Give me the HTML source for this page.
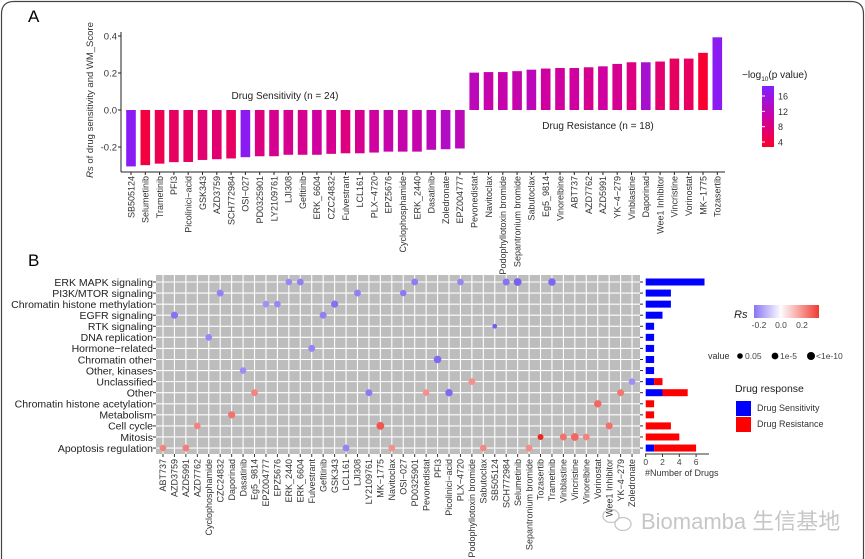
<!DOCTYPE html>
<html><head><meta charset="utf-8"><style>
html,body{margin:0;background:#fff;overflow:hidden;width:865px;height:559px;}
svg{display:block;overflow:hidden;font-family:"Liberation Sans","Noto Sans CJK SC",sans-serif;}
</style></head><body>
<svg id="fig" width="865" height="559" viewBox="0 0 865 559">
<path d="M1.5 559 L1.5 14 Q1.5 1.5 14 1.5 L851 1.5 Q863.5 1.5 863.5 14 L863.5 559" fill="none" stroke="#444" stroke-width="1.2"/>
<text x="28" y="22" font-size="17">A</text>
<text x="28" y="266" font-size="17">B</text>
<g id="A"></g><g id="B"></g>
<g opacity="0.55">
<ellipse cx="611" cy="516" rx="8" ry="6.5" fill="none" stroke="#999" stroke-width="1.3"/>
<ellipse cx="623" cy="524" rx="8" ry="6.5" fill="none" stroke="#999" stroke-width="1.3"/>
<text x="641" y="529" font-size="22" fill="#999">Biomamba 生信基地</text>
</g>
</svg>
<script>
const drugs=["SB505124","Selumetinib","Trametinib","PFI3","Picolinici−acid","GSK343","AZD3759","SCH772984","OSI−027","PD0325901","LY2109761","LJI308","Gefitinib","ERK_6604","CZC24832","Fulvestrant","LCL161","PLX−4720","EPZ5676","Cyclophosphamide","ERK_2440","Dasatinib","Zoledronate","EPZ004777","Pevonedistat","Navitoclax","Podophyllotoxin bromide","Sepantronium bromide","Sabutoclax","Eg5_9814","Vinorelbine","ABT737","AZD7762","AZD5991","YK−4−279","Vinblastine","Daporinad","Wee1 Inhibitor","Vincristine","Vorinostat","MK−1775","Tozasertib"];
const rsValues=[-0.305,-0.298,-0.29,-0.282,-0.281,-0.27,-0.266,-0.262,-0.255,-0.25,-0.25,-0.242,-0.242,-0.242,-0.237,-0.234,-0.234,-0.23,-0.225,-0.225,-0.225,-0.215,-0.212,-0.208,0.202,0.205,0.205,0.21,0.218,0.224,0.227,0.227,0.231,0.236,0.249,0.258,0.258,0.262,0.278,0.278,0.309,0.393];
const logP=[17,4,5,6,6,7,7,6,17,8,9,9,9,10,9,8,9,10,11,11,11,12,13,12,12,11,11,11,12,10,10,10,9,10,9,8,14,7,6,6,3,17];
const yTicks=[0.4,0.2,0.0,-0.2];
const pTicks=[16,12,8,4];

const catNames=["ERK MAPK signaling","PI3K/MTOR signaling","Chromatin histone methylation","EGFR signaling","RTK signaling","DNA replication","Hormone−related","Chromatin other","Other, kinases","Unclassified","Other","Chromatin histone acetylation","Metabolism","Cell cycle","Mitosis","Apoptosis regulation"];
const colDrugs=["ABT737","AZD3759","AZD5991","AZD7762","Cyclophosphamide","CZC24832","Daporinad","Dasatinib","Eg5_9814","EPZ004777","EPZ5676","ERK_2440","ERK_6604","Fulvestrant","Gefitinib","GSK343","LCL161","LJI308","LY2109761","MK−1775","Navitoclax","OSI−027","PD0325901","Pevonedistat","PFI3","Picolinici−acid","PLX−4720","Podophyllotoxin bromide","Sabutoclax","SB505124","SCH772984","Selumetinib","Sepantronium bromide","Tozasertib","Trametinib","Vinblastine","Vincristine","Vinorelbine","Vorinostat","Wee1 Inhibitor","YK−4−279","Zoledronate"];
const dotCategory=[15,3,15,13,5,1,12,8,10,2,2,0,0,6,3,2,15,1,10,13,15,1,0,10,7,10,0,9,15,4,0,0,15,14,0,14,14,14,11,13,10,9];
const dotSize=[3.3,3.6,3.4,3.3,3.4,3.5,3.6,3.3,3.4,3.3,3.3,3.3,3.4,3.5,3.5,3.6,3.4,3.4,3.5,3.9,3.3,3.2,3.4,3.3,3.8,3.7,3.3,3.4,3.3,2.4,3.5,3.9,3.4,3.0,3.7,3.5,3.9,3.4,3.7,3.5,3.5,3.3];
const countTicks=[0,2,4,6];

const NS="http://www.w3.org/2000/svg";
function mk(parent,tag,attrs,text){const e=document.createElementNS(NS,tag);for(const k in attrs)e.setAttribute(k,attrs[k]);if(text!==undefined)e.textContent=text;parent.appendChild(e);return e;}
function lerp(a,b,t){return a.map((v,i)=>Math.round(v+(b[i]-v)*t));}
function rgb(c){return "rgb("+c.join(",")+")";}
function pColor(v){const s=[[2,[255,0,32]],[10,[208,0,160]],[18,[128,32,255]]];if(v<=s[0][0])return rgb(s[0][1]);for(let i=0;i<2;i++){if(v<=s[i+1][0])return rgb(lerp(s[i][1],s[i+1][1],(v-s[i][0])/(s[i+1][0]-s[i][0])));}return rgb(s[2][1]);}
function rsColor(r){if(r<0)return rgb(lerp([255,255,255],[100,75,240],Math.min(1,-r/0.34)));return rgb(lerp([255,255,255],[235,25,15],Math.min(1,r/0.42)));}

// Panel A
const A=document.getElementById("A");
const ax={x0:121,x1:725,y0:32,y1:172};
const yA=v=>110-v*185;
const xA=i=>131+i*14.3;
mk(A,"line",{x1:ax.x0,y1:ax.y0,x2:ax.x0,y2:ax.y1,stroke:"#222","stroke-width":1,});
mk(A,"line",{x1:ax.x0,y1:ax.y1,x2:ax.x1,y2:ax.y1,stroke:"#222","stroke-width":1,});
yTicks.forEach(t=>{
 const l=mk(A,"line",{x1:118,y1:yA(t),x2:121,y2:yA(t),stroke:"#222"});
 
 
 const tx=mk(A,"text",{x:117,y:yA(t)+3.5,"font-size":9.5,"text-anchor":"end",fill:"#333"},t===0?"0.0":(t<0?"-":"")+Math.abs(t).toFixed(1));
 
 
});
const yt=mk(A,"text",{transform:"translate(93,100) rotate(-90)","font-size":9.5,"text-anchor":"middle",fill:"#333",});
mk(yt,"tspan",{"font-style":"italic"},"Rs");mk(yt,"tspan",{}," of drug sensitivity and WM_Score");
drugs.forEach((d,i)=>{
 const v=rsValues[i],x=xA(i);
 const r=mk(A,"rect",{x:x-4.8,y:Math.min(yA(v),yA(0)),width:9.6,height:Math.abs(yA(v)-yA(0)),fill:pColor(logP[i])});
 
 
 mk(A,"line",{x1:x,y1:172,x2:x,y2:175,stroke:"#222"});
 const t=mk(A,"text",{transform:"translate("+(x+3.3)+",176) rotate(-90)","font-size":9,"text-anchor":"end",fill:"#333"},d);
 
 
});
mk(A,"text",{x:285,y:99,"font-size":10,"text-anchor":"middle",fill:"#222",},"Drug Sensitivity (n = 24)");
mk(A,"text",{x:598,y:129,"font-size":10,"text-anchor":"middle",fill:"#222",},"Drug Resistance (n = 18)");
const lt=mk(A,"text",{x:742,y:78,"font-size":10,fill:"#222",});
mk(lt,"tspan",{},"−log");mk(lt,"tspan",{"font-size":6.5,dy:3},"10");mk(lt,"tspan",{dy:-3},"(p value)");
const defs=mk(document.getElementById("fig"),"defs",{});
const g1=mk(defs,"linearGradient",{id:"gp",x1:0,y1:1,x2:0,y2:0});
[0,0.25,0.5,0.75,1].forEach(o=>mk(g1,"stop",{offset:o,"stop-color":pColor(2.7+o*15.6)}));
const pY=v=>142-(v-4)*(46/12);
mk(A,"rect",{x:762,y:86,width:12,height:61,fill:"url(#gp)",});
pTicks.forEach(t=>{
 const tx=mk(A,"text",{x:778,y:pY(t)+3.5,"font-size":9,fill:"#333"},String(t));
 
 
 mk(A,"line",{x1:762,y1:pY(t),x2:765,y2:pY(t),stroke:"#fff"});
});

// Panel B
const B=document.getElementById("B");
const gx=i=>163+i*11.44, gy=j=>282+j*11.07;
mk(B,"rect",{x:156,y:275,width:484,height:179,fill:"#bdbdbd",});
colDrugs.forEach((d,i)=>{
 mk(B,"line",{x1:gx(i),y1:275,x2:gx(i),y2:454,stroke:"#fff","stroke-width":1.1});
 mk(B,"line",{x1:gx(i),y1:454,x2:gx(i),y2:457,stroke:"#333"});
 const t=mk(B,"text",{transform:"translate("+(gx(i)+3.2)+",459) rotate(-90)","font-size":9,"text-anchor":"end",fill:"#333"},d);
 
 
});
catNames.forEach((c,j)=>{
 mk(B,"line",{x1:156,y1:gy(j),x2:640,y2:gy(j),stroke:"#fff","stroke-width":1.1});
 mk(B,"line",{x1:153,y1:gy(j),x2:156,y2:gy(j),stroke:"#333"});
 const t=mk(B,"text",{x:153,y:gy(j)+3.8,"font-size":10.5,"text-anchor":"end",fill:"#222"},c);
 
 
});
const sensCount=catNames.map(()=>0),resCount=catNames.map(()=>0);
colDrugs.forEach((d,i)=>{
 const rs=rsValues[drugs.indexOf(d)];
 const j=dotCategory[i];
 if(rs<0)sensCount[j]++;else resCount[j]++;
 const c=mk(B,"circle",{cx:gx(i),cy:gy(j),r:dotSize[i],fill:rsColor(rs)});
 
 
});
const cx=v=>645.7+v*8.4;
catNames.forEach((c,j)=>{
 mk(B,"line",{x1:640,y1:gy(j),x2:643,y2:gy(j),stroke:"#333"});
 if(sensCount[j]>0){const r=mk(B,"rect",{x:cx(0),y:gy(j)-3.5,width:cx(sensCount[j])-cx(0),height:7,fill:"#0000ff"});
  
  }
 if(resCount[j]>0){const r=mk(B,"rect",{x:cx(sensCount[j]),y:gy(j)-3.5,width:cx(resCount[j])-cx(0),height:7,fill:"#ff0000"});
  
  }
});
mk(B,"line",{x1:645,y1:454,x2:709,y2:454,stroke:"#333",});
countTicks.forEach(t=>{
 mk(B,"line",{x1:cx(t),y1:454,x2:cx(t),y2:457,stroke:"#333"});
 const tx=mk(B,"text",{x:cx(t),y:465,"font-size":8.5,"text-anchor":"middle",fill:"#444"},String(t));
 
 
});
mk(B,"text",{x:645,y:476,"font-size":9,fill:"#333",},"#Number of Drugs");
const g2=mk(defs,"linearGradient",{id:"gr",x1:0,y1:0,x2:1,y2:0});
[0,0.2,0.41,0.6,0.8,1].forEach(o=>mk(g2,"stop",{offset:o,"stop-color":rsColor(-0.26+o*0.62)}));
mk(B,"text",{x:734,y:318,"font-size":11,"font-style":"italic",fill:"#222",},"Rs");
mk(B,"rect",{x:754,y:305,width:65,height:13,fill:"url(#gr)",});
[["-0.2",759],["0.0",781],["0.2",802]].forEach(p=>{const t=mk(B,"text",{x:p[1],y:328,"font-size":8.5,"text-anchor":"middle",fill:"#444"},p[0]);
 
 });
mk(B,"text",{x:708,y:359,"font-size":9,fill:"#333",},"value");
[[740,2.8,"0.05",745],[775,3.4,"1e-5",780],[811,4,"<1e-10",816]].forEach(p=>{
 mk(B,"circle",{cx:p[0],cy:356,r:p[1],fill:"#000"});
 const t=mk(B,"text",{x:p[3],y:359,"font-size":8.5,fill:"#444"},p[2]);
 
 
});
mk(B,"text",{x:735,y:392,"font-size":10.5,fill:"#222",},"Drug response");
mk(B,"rect",{x:736,y:401,width:15,height:15,fill:"#0000ff",});
mk(B,"rect",{x:736,y:417,width:15,height:15,fill:"#ff0000",});
mk(B,"text",{x:757,y:411,"font-size":9,fill:"#333",},"Drug Sensitivity");
mk(B,"text",{x:757,y:427,"font-size":9,fill:"#333",},"Drug Resistance");
</script>
</body></html>
